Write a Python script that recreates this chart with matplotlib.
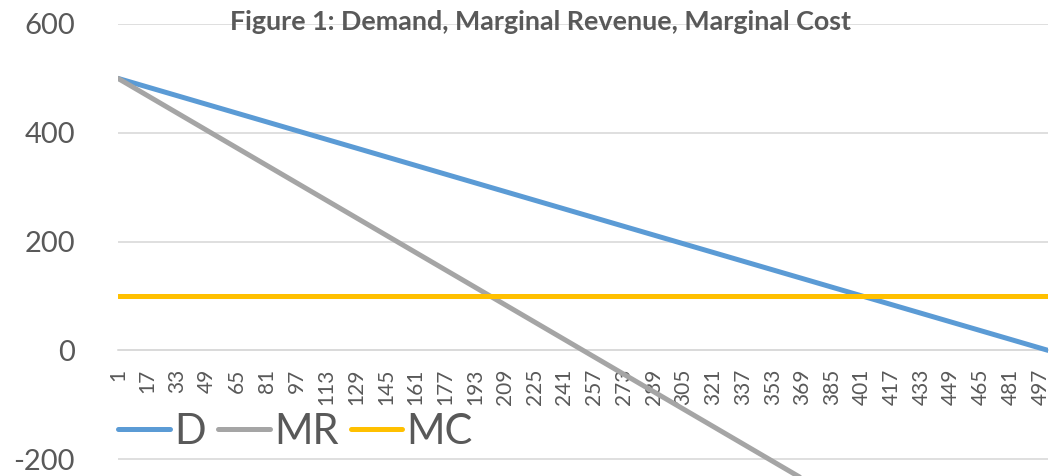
import matplotlib
matplotlib.use("Agg")
import matplotlib.pyplot as plt

# quantity categories (ends of each straight line) and the three curves
q = [1, 501]
demand = [500, 0]
marginal_revenue = [500, -500]
marginal_cost = [100, 100]

tick_labels = [1, 17, 33, 49, 65, 81, 97, 113, 129, 145, 161, 177, 193, 209, 225,
               241, 257, 273, 289, 305, 321, 337, 353, 369, 385, 401, 417, 433,
               449, 465, 481, 497]
y_ticks = [-200, 0, 200, 400, 600]

plt.rcParams['font.family'] = ['Lato', 'DejaVu Sans']
plt.rcParams['axes.unicode_minus'] = False
text_col = '#595959'

W, H = 1053, 476
fig = plt.figure(figsize=(W / 100, H / 100), dpi=100)
ax = fig.add_axes([118 / W, 0, 930 / W, 452 / H])

ax.plot(q, demand, color='#5B9BD5', lw=3.6, solid_capstyle='round', label='D', zorder=3)
ax.plot(q, marginal_revenue, color='#A5A5A5', lw=3.6, solid_capstyle='round', label='MR', zorder=3)
ax.plot(q, marginal_cost, color='#FFC000', lw=3.6, solid_capstyle='round', label='MC', zorder=3)

ax.set_xlim(1, 501)
ax.set_ylim(-231, 600)
ax.set_yticks(y_ticks)
ax.set_xticks(tick_labels)
ax.set_xticklabels([str(t) for t in tick_labels])

for s in ['top', 'right', 'left']:
    ax.spines[s].set_visible(False)
ax.spines['bottom'].set_position(('data', 0))
ax.spines['bottom'].set_color('#D9D9D9')
ax.spines['bottom'].set_linewidth(1.2)

ax.tick_params(axis='y', length=0, pad=31, labelsize=21, labelcolor=text_col)
ax.tick_params(axis='x', length=0, pad=13, labelsize=15, labelcolor=text_col,
               labelrotation=90)
ax.grid(axis='y', color='#D9D9D9', lw=1.2, zorder=0)
ax.set_axisbelow(True)

fig.text(540 / W, 1 - 22 / H, 'Figure 1: Demand, Marginal Revenue, Marginal Cost',
         ha='center', va='center', fontsize=19.4, fontweight='bold', color=text_col)

leg = ax.legend(loc='center left', bbox_to_anchor=(118 / W, 1 - 432 / H),
                bbox_transform=fig.transFigure, ncol=3, frameon=False,
                fontsize=30, handlelength=1.24, handletextpad=0.1,
                columnspacing=0.3, borderpad=0, borderaxespad=0)
for t in leg.get_texts():
    t.set_color(text_col)

fig.savefig('out.png', dpi=100)
